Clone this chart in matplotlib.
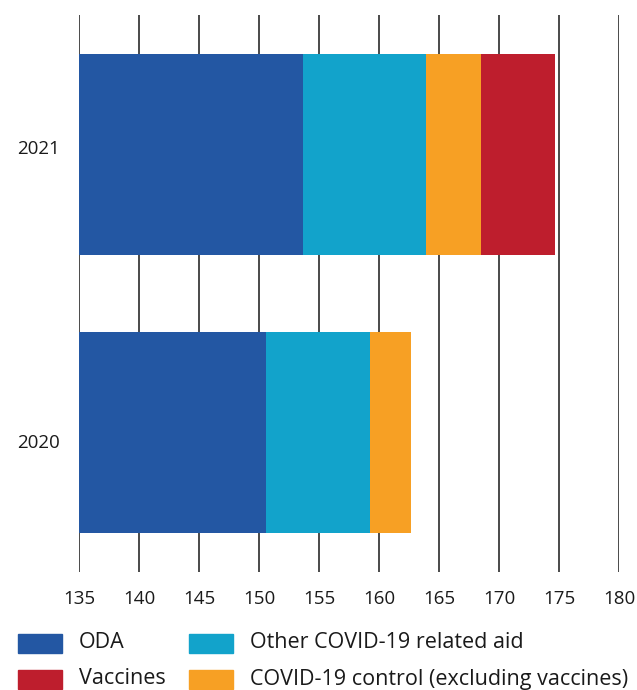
import matplotlib
matplotlib.use("Agg")
import matplotlib.pyplot as plt
from matplotlib.patches import Rectangle
from matplotlib.transforms import ScaledTranslation

plt.rcParams["font.family"] = ["Open Sans", "DejaVu Sans"]

years = ["2020", "2021"]
oda = [150.6, 153.7]
other_covid = [8.65, 10.2]
covid_control = [3.4, 4.6]
vaccines = [0.0, 6.2]

series = [
    ("ODA", oda, "#2357A3"),
    ("Other COVID-19 related aid", other_covid, "#12A3CB"),
    ("COVID-19 control (excluding vaccines)", covid_control, "#F7A024"),
    ("Vaccines", vaccines, "#BE1E2D"),
]
xticks = [135, 140, 145, 150, 155, 160, 165, 170, 175, 180]

fig = plt.figure(figsize=(6.37, 6.90), dpi=100)
ax = fig.add_axes([79 / 637, 118 / 690, 540 / 637, 557 / 690])

pos = list(range(len(years)))
left = [0.0] * len(years)
for name, vals, color in series:
    ax.barh(pos, vals, left=left, height=0.72, color=color, zorder=2)
    left = [l + v for l, v in zip(left, vals)]

ax.set_xlim(135, 180)
ax.set_ylim(-0.5, 1.5)
ax.set_xticks(xticks)
ax.set_yticks(pos)
ax.set_yticklabels(years)
for x in xticks:
    ax.axvline(x, color="#4a4a4a", lw=1.4, zorder=1)
for s in ax.spines.values():
    s.set_visible(False)
ax.tick_params(axis="both", length=0, labelsize=13.5, colors="#1a1a1a")
ax.tick_params(axis="x", pad=13)
ax.tick_params(axis="y", pad=14)

# nudge year labels a little off the bar centres
for lbl, dy in zip(ax.get_yticklabels(), [-8.5, 7]):
    lbl.set_transform(lbl.get_transform() + ScaledTranslation(0, dy / 100, fig.dpi_scale_trans))

# legend, two columns laid out by hand
legend_order = [
    (0, 0, "ODA", "#2357A3"),
    (0, 1, "Vaccines", "#BE1E2D"),
    (1, 0, "Other COVID-19 related aid", "#12A3CB"),
    (1, 1, "COVID-19 control (excluding vaccines)", "#F7A024"),
]
col_x = [18, 189]
row_y = [643, 679]
for col, row, label, color in legend_order:
    x0 = col_x[col]
    yc = row_y[row]
    fig.patches.append(Rectangle((x0 / 637, 1 - (yc + 9.5) / 690), 44 / 637, 19 / 690,
                                 transform=fig.transFigure, color=color))
    fig.text((x0 + 61) / 637, 1 - yc / 690, label, fontsize=15.5, va="center",
             ha="left", color="#1a1a1a")

fig.savefig("out.png", dpi=100)
